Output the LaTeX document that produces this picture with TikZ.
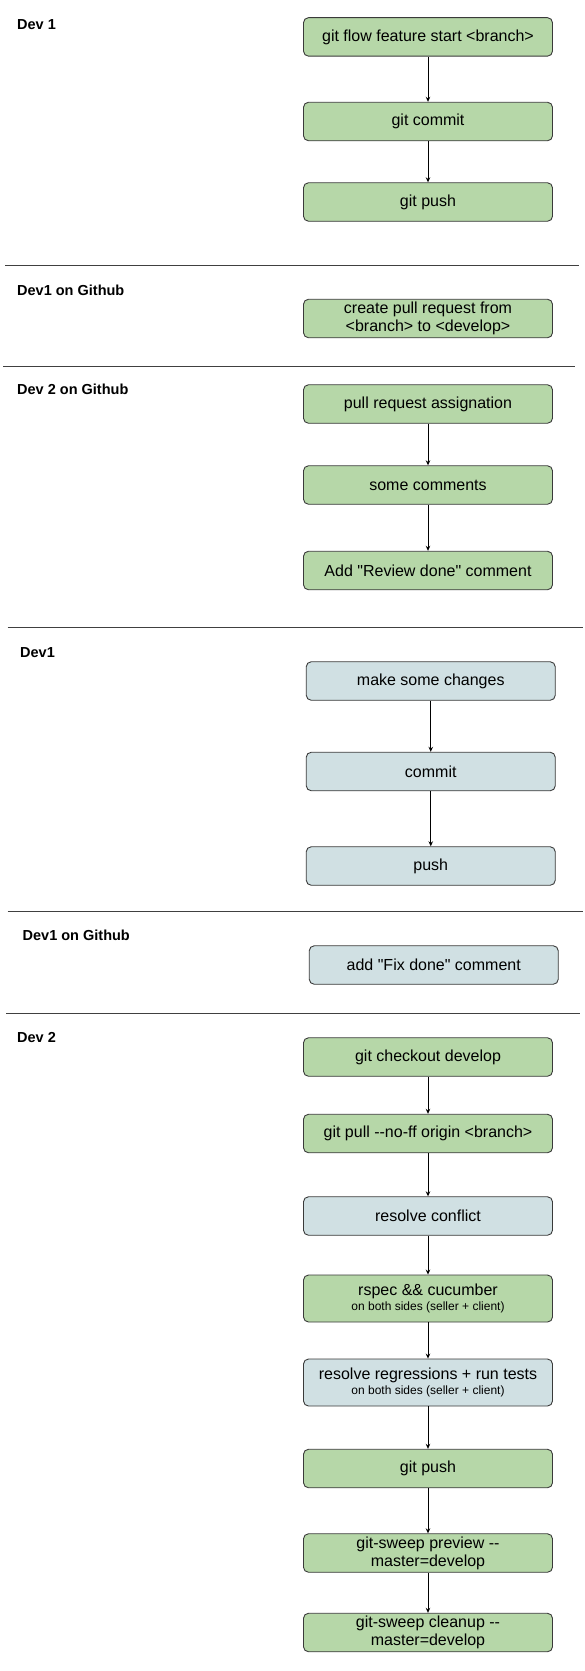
\documentclass[tikz,border=0pt]{standalone}
\usepackage{fontspec}
\setmainfont{Liberation Sans}
\usetikzlibrary{arrows.meta}
\definecolor{boxgreen}{HTML}{B6D7A8}
\definecolor{boxblue}{HTML}{D0E0E3}
\definecolor{edgegray}{HTML}{3A3A3A}
\definecolor{sepgray}{HTML}{404040}
\begin{document}
\begin{tikzpicture}[x=1pt,y=-1pt,
  stepbox/.style={draw=edgegray, line width=0.9pt, rounded corners=5pt,
    minimum width=249pt, minimum height=38.5pt, inner sep=0pt,
    align=center, font=\fontsize{16}{18}\selectfont, text=black},
  greenbox/.style={stepbox, fill=boxgreen},
  bluebox/.style={stepbox, fill=boxblue},
  tallbox/.style={minimum height=47pt},
  lane/.style={font=\bfseries\fontsize{14.5}{17}\selectfont, anchor=base west, inner sep=0pt},
  sepline/.style={draw=sepgray, line width=1pt},
  flow/.style={draw=black, line width=0.8pt, -{Stealth[length=5pt,width=4.5pt]}}]
\useasboundingbox (0,0) rectangle (585,1671);

% lane labels
\node[lane] (l1) at (17,29) {Dev 1};
\node[lane] (l2) at (17,295) {Dev1 on Github};
\node[lane] (l3) at (17,394) {Dev 2 on Github};
\node[lane] (l4) at (20,657) {Dev1};
\node[lane] (l5) at (22.5,940) {Dev1 on Github};
\node[lane] (l6) at (17,1042) {Dev 2};

% separators
\coordinate (s1a) at (5,265);   \coordinate (s1b) at (579,265);
\coordinate (s2a) at (3,366);   \coordinate (s2b) at (575,366);
\coordinate (s3a) at (7.5,627); \coordinate (s3b) at (583,627);
\coordinate (s4a) at (7.5,911); \coordinate (s4b) at (583,911);
\coordinate (s5a) at (6,1013);  \coordinate (s5b) at (580,1013);
\draw[sepline] (s1a) -- (s1b);
\draw[sepline] (s2a) -- (s2b);
\draw[sepline] (s3a) -- (s3b);
\draw[sepline] (s4a) -- (s4b);
\draw[sepline] (s5a) -- (s5b);

% Dev 1
\node[greenbox] (b1) at (428,36.9) {git flow feature start <branch>};
\node[greenbox] (b2) at (428,121.5) {git commit};
\node[greenbox] (b3) at (428,202) {git push};
% Dev1 on Github
\node[greenbox] (b4) at (428,318.5) {create pull request from\\<branch> to <develop>};
% Dev 2 on Github
\node[greenbox] (b5) at (428,404) {pull request assignation};
\node[greenbox] (b6) at (428,485) {some comments};
\node[greenbox] (b7) at (428,570.5) {Add \textquotedbl Review done\textquotedbl{} comment};
% Dev1
\node[bluebox] (b8) at (430.75,681) {make some changes};
\node[bluebox] (b9) at (430.75,771.5) {commit};
\node[bluebox] (b10) at (430.75,866) {push};
% Dev1 on Github
\node[bluebox] (b11) at (433.75,965) {add \textquotedbl Fix done\textquotedbl{} comment};
% Dev 2
\node[greenbox] (b12) at (428,1057) {git checkout develop};
\node[greenbox] (b13) at (428,1133.5) {git pull -{}-no-ff origin <branch>};
\node[bluebox] (b14) at (428,1216) {resolve conflict};
\node[greenbox,tallbox] (b15) at (428,1298.5) {rspec \&\& cucumber\\[-3pt]{\fontsize{12}{14}\selectfont on both sides (seller + client)}};
\node[bluebox,tallbox] (b16) at (428,1382.5) {resolve regressions + run tests\\[-3pt]{\fontsize{12}{14}\selectfont on both sides (seller + client)}};
\node[greenbox] (b17) at (428,1468.5) {git push};
\node[greenbox] (b18) at (428,1553) {git-sweep preview -{}-\\master=develop};
\node[greenbox] (b19) at (428,1632.5) {git-sweep cleanup -{}-\\master=develop};

% connectors
\draw[flow] (b1) -- (b2);
\draw[flow] (b2) -- (b3);
\draw[flow] (b5) -- (b6);
\draw[flow] (b6) -- (b7);
\draw[flow] (b8) -- (b9);
\draw[flow] (b9) -- (b10);
\draw[flow] (b12) -- (b13);
\draw[flow] (b13) -- (b14);
\draw[flow] (b14) -- (b15);
\draw[flow] (b15) -- (b16);
\draw[flow] (b16) -- (b17);
\draw[flow] (b17) -- (b18);
\draw[flow] (b18) -- (b19);
\end{tikzpicture}
\end{document}
